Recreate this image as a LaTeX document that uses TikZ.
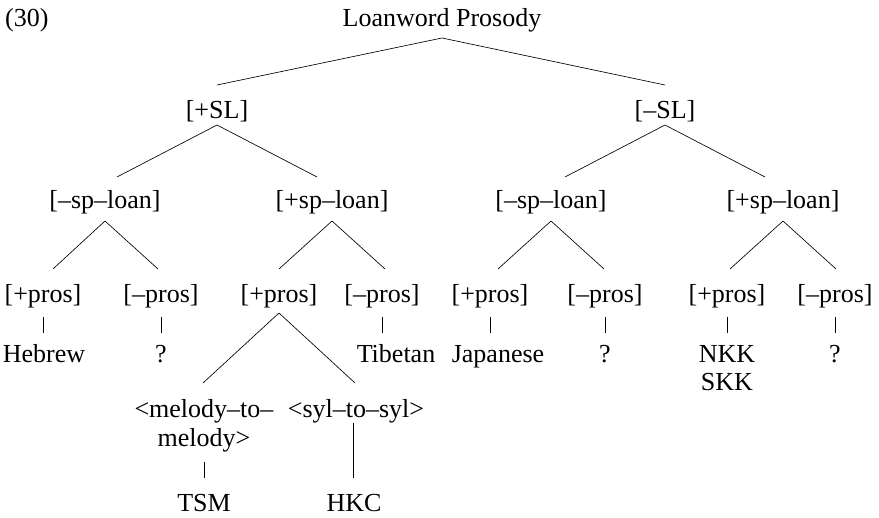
\documentclass[tikz,border=0pt]{standalone}
\usepackage{fontspec}
\setmainfont{Liberation Serif}
\usetikzlibrary{calc}
\begin{document}
\begin{tikzpicture}[x=1pt,y=-1pt,
  tn/.style={anchor=base, inner sep=0pt, font=\fontsize{26}{30}\selectfont},
  br/.style={line width=0.65pt}]
\useasboundingbox (0,0) rectangle (879,518);
% labels
\node[tn, anchor=base west] (num) at (5,27) {(30)};
\node[tn] (root) at (442,27) {Loanword Prosody};
\node[tn] (psl) at (217,119) {[+SL]};
\node[tn] (msl) at (665,119) {[–SL]};
\node[tn] (a1) at (105,209) {[–sp–loan]};
\node[tn] (a2) at (332,209) {[+sp–loan]};
\node[tn] (a3) at (551,209) {[–sp–loan]};
\node[tn] (a4) at (783,209) {[+sp–loan]};
\node[tn] (p1) at (43,303) {[+pros]};
\node[tn] (p2) at (161,303) {[–pros]};
\node[tn] (p3) at (279,303) {[+pros]};
\node[tn] (p4) at (382,303) {[–pros]};
\node[tn] (p5) at (490,303) {[+pros]};
\node[tn] (p6) at (605,303) {[–pros]};
\node[tn] (p7) at (727,303) {[+pros]};
\node[tn] (p8) at (835,303) {[–pros]};
\node[tn] (l1) at (44,363) {Hebrew};
\node[tn] (l2) at (161,363) {?};
\node[tn] (l4) at (396,363) {Tibetan};
\node[tn] (l5) at (498,363) {Japanese};
\node[tn] (l6) at (605,363) {?};
\node[tn] (l7) at (727,363) {NKK};
\node[tn] (l7b) at (727,391) {SKK};
\node[tn] (l8) at (835,363) {?};
\node[tn] (m1) at (204,418) {<melody–to–};
\node[tn] (m1b) at (204,447) {melody>};
\node[tn] (m2) at (356,418) {<syl–to–syl>};
\node[tn] (t1) at (204,512) {TSM};
\node[tn] (t2) at (354,512) {HKC};
% branches
\draw[br] ($(root.base)+(0,11)$) -- ($(psl.base)+(0,-34)$);
\draw[br] ($(root.base)+(0,11)$) -- ($(msl.base)+(0,-34)$);
\draw[br] ($(psl.base)+(0,6)$) -- ($(a1.base)+(12,-32)$);
\draw[br] ($(psl.base)+(0,6)$) -- ($(a2.base)+(-15,-32)$);
\draw[br] ($(msl.base)+(0,6)$) -- ($(a3.base)+(14,-32)$);
\draw[br] ($(msl.base)+(0,6)$) -- ($(a4.base)+(-18,-32)$);
\draw[br] ($(a1.base)+(0,12)$) -- ($(p1.base)+(10,-34)$);
\draw[br] ($(a1.base)+(0,12)$) -- ($(p2.base)+(-3,-34)$);
\draw[br] ($(a2.base)+(0,12)$) -- ($(p3.base)+(0,-34)$);
\draw[br] ($(a2.base)+(0,12)$) -- ($(p4.base)+(3,-34)$);
\draw[br] ($(a3.base)+(0,12)$) -- ($(p5.base)+(8,-34)$);
\draw[br] ($(a3.base)+(0,12)$) -- ($(p6.base)+(-1,-34)$);
\draw[br] ($(a4.base)+(0,12)$) -- ($(p7.base)+(3,-34)$);
\draw[br] ($(a4.base)+(0,12)$) -- ($(p8.base)+(1,-34)$);
\draw[br] ($(p1.base)+(0,14)$) -- ($(p1.base |- l1.base)+(0,-30)$);
\draw[br] ($(p2.base)+(0,14)$) -- ($(p2.base |- l2.base)+(0,-30)$);
\draw[br] ($(p4.base)+(0,14)$) -- ($(p4.base |- l4.base)+(0,-30)$);
\draw[br] ($(p5.base)+(0,14)$) -- ($(p5.base |- l5.base)+(0,-30)$);
\draw[br] ($(p6.base)+(0,14)$) -- ($(p6.base |- l6.base)+(0,-30)$);
\draw[br] ($(p7.base)+(0,14)$) -- ($(p7.base |- l7.base)+(0,-30)$);
\draw[br] ($(p8.base)+(0,14)$) -- ($(p8.base |- l8.base)+(0,-30)$);
\draw[br] ($(p3.base)+(0,10)$) -- ($(m1.base)+(-1,-35)$);
\draw[br] ($(p3.base)+(0,10)$) -- ($(m2.base)+(-1,-35)$);
\draw[br] ($(m1b.base)+(0,15)$) -- ($(t1.base)+(0,-34)$);
\draw[br] ($(m2.base)+(-3,5)$) -- ($(t2.base)+(-1,-34)$);
\end{tikzpicture}
\end{document}
